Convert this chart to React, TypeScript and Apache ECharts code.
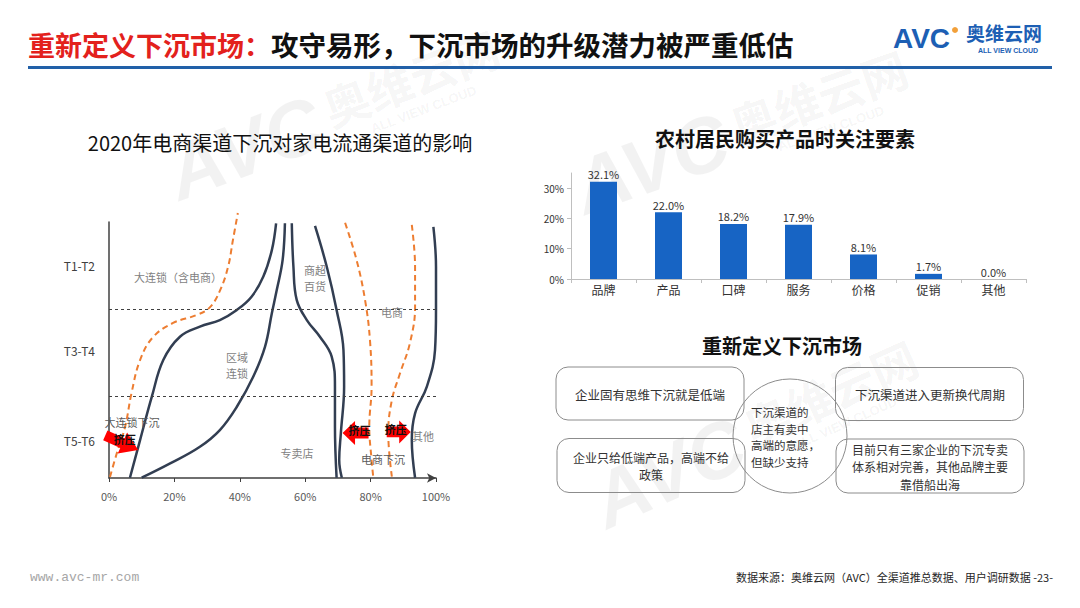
import React, { useEffect, useRef } from 'react';
import * as echarts from 'echarts';

const FONT = "'Noto Sans CJK SC', 'Noto Sans', sans-serif";

// ---------- left chart: channel boundary curves ([share %, tier level]) ----------
const X_TICK_STEP = 20;
const TIER_LABELS = ['T1-T2', 'T3-T4', 'T5-T6'];
const TIER_LEVELS = [80, 48.3, 14.3];
const TIER_DIVIDERS = [63.7, 31.0];

const bigChainEcomDashed = [[0.3, 0.4], [2.4, 9.4], [4.9, 19.2], [6.9, 32.1], [9.5, 44.5], [13.5, 53.2], [19.6, 58.5], [26.8, 61.5], [30.9, 64.5], [34, 70.9], [36.4, 79.6], [37.9, 89.8], [39.4, 100]];
const bigChainBoundary = [[6.4, 0.1], [9.5, 14.3], [13.1, 30.7], [16.6, 44.5], [21.7, 53.3], [27.8, 57.1], [33.9, 59.6], [39.1, 63.4], [43.6, 68.4], [47.2, 76], [49.8, 86], [51.1, 96.1]];
const regionalChainBoundary = [[10, 0.1], [18.7, 5.5], [27.8, 11.8], [33.9, 18.1], [39.1, 26.9], [44.1, 38.2], [47.7, 49.5], [49.8, 62.2], [51.3, 70.9], [53.1, 82.3], [53.8, 96.1]];
const specialtyBoundary = [[55.9, 96.1], [56.4, 79.7], [57.4, 67.2], [60.5, 59.6], [64.5, 53.3], [68.1, 45.8], [69.1, 34.5], [69.1, 19.4], [69.6, 0.1]];
const supermarketBoundary = [[63, 95.1], [66.6, 79.7], [69.6, 63.4], [71.7, 48.3], [71.9, 34.5], [70.9, 16.9], [70.4, 6.8], [71.2, 0.1]];
const ecomLeftDashed = [[72.2, 96.3], [75.7, 82.3], [78.3, 67.2], [79.8, 52.1], [80.3, 34.5], [79.6, 19.4], [80.3, 6.8], [80.8, 0.5]];
const ecomRightDashed = [[92.6, 95.5], [93.6, 79.7], [93.6, 64.6], [92, 50.8], [89, 39.5], [86.5, 29.4], [85.4, 16.9], [86.5, 0.5]];
const othersBoundary = [[99.2, 94.8], [100, 79.7], [100, 63.4], [99.7, 48.3], [97.2, 34.5], [93.6, 24.4], [92.6, 14.3], [93.6, 0.1]];

// squeeze arrows: [x, y, rotation deg]
const squeezeArrows = [[3.9, 13.3, -24], [75.4, 17.0, 180], [88.6, 17.4, 0]];
const squeezeLabel = '挤压';

// ---------- right top chart ----------
const factorCategories = ['品牌', '产品', '口碑', '服务', '价格', '促销', '其他'];
const factorValues = [32.1, 22.0, 18.2, 17.9, 8.1, 1.7, 0.0];
const factorTicks = [0, 10, 20, 30];

const DARK = '#323e52';
const ORANGE = '#ed7d31';
const WM = 'rgba(0,0,0,0.05)';

function txt(x: number, y: number, text: string, o: any = {}) {
  const align = o.align || 'center';
  return {
    type: 'text',
    x,
    y,
    z: o.z ?? 10,
    silent: true,
    style: {
      text,
      fill: o.fill || '#333',
      fontSize: o.fontSize || 12,
      fontWeight: o.fontWeight || 'normal',
      fontStyle: o.fontStyle || 'normal',
      fontFamily: o.fontFamily || FONT,
      lineHeight: o.lineHeight,
      align,
      textAlign: align,
      verticalAlign: 'middle',
      textVerticalAlign: 'middle',
    },
  };
}

function watermark(x: number, y: number, rot: number) {
  return {
    type: 'group',
    x,
    y,
    rotation: rot,
    z: -5,
    silent: true,
    children: [
      { type: 'text', x: 0, y: 0, z: -5, style: { text: 'AVC', fill: WM, fontSize: 78, fontWeight: 'bold', fontStyle: 'italic', fontFamily: 'Liberation Sans', align: 'left', textAlign: 'left', verticalAlign: 'middle', textVerticalAlign: 'middle' } },
      { type: 'text', x: 168, y: -8, z: -5, style: { text: '奥维云网', fill: WM, fontSize: 46, fontWeight: 'bold', fontFamily: FONT, align: 'left', textAlign: 'left', verticalAlign: 'middle', textVerticalAlign: 'middle' } },
      { type: 'text', x: 205, y: 27, z: -5, style: { text: 'ALL VIEW CLOUD', fill: WM, fontSize: 13, fontWeight: 'bold', fontFamily: 'Liberation Sans', align: 'left', textAlign: 'left', verticalAlign: 'middle', textVerticalAlign: 'middle' } },
    ],
  };
}

function box(x: number, y: number, w: number, h: number) {
  return { type: 'rect', z: 5, silent: true, shape: { x, y, width: w, height: h, r: 12 }, style: { fill: 'none', stroke: '#8c8c8c', lineWidth: 1 } };
}

function curve(data: number[][], dashed: boolean, extra: any = {}) {
  return {
    type: 'line',
    xAxisIndex: 0,
    yAxisIndex: 0,
    data,
    smooth: 0.4,
    symbol: 'none',
    clip: false,
    silent: true,
    lineStyle: dashed ? { color: ORANGE, width: 2, type: [6, 4] } : { color: DARK, width: 2.5 },
    ...extra,
  };
}

const ARROW_PATH = 'path://M0,27L52,27L52,0L100,50L52,100L52,73L0,73Z';
const arrowSizes = [[36, 23], [26, 24], [24, 23]];
const arrowLabelOffsets = [[3, -4], [4, -3], [-3, -3]];

export default function App() {
  const ref = useRef<HTMLDivElement>(null);
  useEffect(() => {
    const chart = echarts.init(ref.current!, null, { renderer: 'svg' });
    const option: any = {
      animation: false,
      backgroundColor: '#ffffff',
      textStyle: { fontFamily: FONT },
      grid: [
        { left: 109, top: 222, width: 327, height: 256 },
        { left: 571, top: 173, width: 455, height: 106 },
      ],
      xAxis: [
        {
          gridIndex: 0,
          type: 'value',
          min: 0,
          max: 100,
          interval: X_TICK_STEP,
          axisLine: { show: true, lineStyle: { color: '#404040', width: 1.5 }, symbol: ['none', 'arrow'], symbolSize: [7, 9] },
          axisTick: { show: true, length: 4, lineStyle: { color: '#404040' } },
          axisLabel: { formatter: '{value}%', color: '#595959', fontSize: 11, margin: 12, fontFamily: FONT },
          splitLine: { show: false },
        },
        {
          gridIndex: 1,
          type: 'category',
          data: factorCategories,
          axisLine: { show: true, lineStyle: { color: '#bfbfbf' } },
          axisTick: { show: true, length: 4, lineStyle: { color: '#bfbfbf' } },
          axisLabel: { color: '#333', fontSize: 12, margin: 4, fontFamily: FONT },
          splitLine: { show: false },
        },
      ],
      yAxis: [
        {
          gridIndex: 0,
          type: 'value',
          min: 0,
          max: 96.6,
          axisLine: { show: true, lineStyle: { color: '#404040', width: 1.5 } },
          axisTick: { show: false },
          axisLabel: {
            show: true,
            customValues: TIER_LEVELS,
            formatter: (v: number) => {
              const i = TIER_LEVELS.indexOf(v);
              return i >= 0 ? TIER_LABELS[i] : '';
            },
            color: '#404040',
            fontSize: 12,
            margin: 14,
            fontFamily: FONT,
          },
          splitLine: { show: false },
        },
        {
          gridIndex: 1,
          type: 'value',
          min: 0,
          max: 35,
          interval: 10,
          axisLine: { show: true, lineStyle: { color: '#bfbfbf' } },
          axisTick: { show: true, length: 4, customValues: factorTicks, lineStyle: { color: '#bfbfbf' } },
          axisLabel: {
            customValues: factorTicks,
            formatter: (v: number) => (factorTicks.indexOf(v) >= 0 ? v + '%' : ''),
            color: '#333',
            fontSize: 10,
            margin: 7,
            fontFamily: FONT,
          },
          splitLine: { show: false },
        },
      ],
      series: [
        curve(bigChainEcomDashed, true, {
          markLine: {
            silent: true,
            symbol: ['none', 'none'],
            label: { show: false },
            lineStyle: { color: '#404040', width: 1, type: [3, 3] },
            data: TIER_DIVIDERS.map((v) => ({ yAxis: v })),
          },
        }),
        curve(bigChainBoundary, false),
        curve(regionalChainBoundary, false),
        curve(specialtyBoundary, false),
        curve(supermarketBoundary, false),
        curve(ecomLeftDashed, true),
        curve(ecomRightDashed, true),
        curve(othersBoundary, false),
        {
          type: 'scatter',
          xAxisIndex: 0,
          yAxisIndex: 0,
          silent: true,
          z: 6,
          symbol: ARROW_PATH,
          itemStyle: { color: '#ff0000', opacity: 1 },
          data: squeezeArrows.map((a, i) => ({
            value: [a[0], a[1]],
            symbolRotate: a[2],
            symbolSize: arrowSizes[i],
            label: { offset: arrowLabelOffsets[i] },
          })),
          label: {
            show: true,
            position: 'inside',
            formatter: () => squeezeLabel,
            color: '#111',
            fontSize: 11,
            fontWeight: 'bold',
            fontFamily: FONT,
          },
        },
        {
          type: 'bar',
          xAxisIndex: 1,
          yAxisIndex: 1,
          data: factorValues,
          barWidth: 27,
          silent: true,
          itemStyle: { color: '#1764c4' },
          label: {
            show: true,
            position: 'top',
            distance: 2,
            formatter: (p: any) => Number(p.value).toFixed(1) + '%',
            color: '#333',
            fontSize: 11,
            fontFamily: FONT,
          },
        },
      ],
      graphic: [
        watermark(170, 176, 0.36),
        watermark(576, 190, 0.34),
        watermark(596, 505, 0.42),
        // header
        txt(28, 44, '重新定义下沉市场：', { align: 'left', fill: '#e3211c', fontSize: 27, fontWeight: 'bold' }),
        txt(271, 44, '攻守易形，下沉市场的升级潜力被严重低估', { align: 'left', fill: '#111', fontSize: 27.5, fontWeight: 'bold' }),
        { type: 'line', silent: true, shape: { x1: 28, y1: 67.5, x2: 1052, y2: 67.5 }, style: { stroke: '#2160a8', lineWidth: 3 } },
        // logo
        txt(893, 38, 'AVC', { align: 'left', fill: '#1d5fb4', fontSize: 28, fontWeight: 'bold', fontFamily: 'Liberation Sans' }),
        { type: 'circle', silent: true, shape: { cx: 955, cy: 30, r: 3 }, style: { fill: '#f2a03a' } },
        txt(966, 32, '奥维云网', { align: 'left', fill: '#1d5fb4', fontSize: 19, fontWeight: 'bold' }),
        txt(1008, 50.5, 'ALL VIEW CLOUD', { fill: '#1d5fb4', fontSize: 7, fontWeight: 'bold', fontFamily: 'Liberation Sans' }),
        // left chart title + labels
        txt(280, 142, '2020年电商渠道下沉对家电流通渠道的影响', { fill: '#111', fontSize: 20 }),
        txt(178, 277, '大连锁（含电商）', { fill: '#7f7f7f', fontSize: 11 }),
        txt(315, 278, '商超\n百货', { fill: '#7f7f7f', fontSize: 11, lineHeight: 16 }),
        txt(392, 312, '电商', { fill: '#7f7f7f', fontSize: 11 }),
        txt(237, 365, '区域\n连锁', { fill: '#7f7f7f', fontSize: 11, lineHeight: 16 }),
        txt(132, 422, '大连锁下沉', { fill: '#595959', fontSize: 11 }),
        txt(297, 453, '专卖店', { fill: '#7f7f7f', fontSize: 11 }),
        txt(383, 459, '电商下沉', { fill: '#595959', fontSize: 11 }),
        txt(423, 436, '其他', { fill: '#7f7f7f', fontSize: 11 }),
        // right top title
        txt(785, 138, '农村居民购买产品时关注要素', { fill: '#111', fontSize: 20, fontWeight: 'bold' }),
        // right bottom diagram
        txt(782, 345, '重新定义下沉市场', { fill: '#111', fontSize: 20, fontWeight: 'bold' }),
        box(556, 367, 188, 53),
        box(557, 438.5, 188, 54),
        box(835.5, 367.5, 188, 53),
        box(836, 439, 188, 54),
        { type: 'circle', z: 5, silent: true, shape: { cx: 790, cy: 436, r: 57 }, style: { fill: 'none', stroke: '#8c8c8c', lineWidth: 1 } },
        txt(650, 394, '企业固有思维下沉就是低端', { fontSize: 12.5 }),
        txt(651, 466, '企业只给低端产品，高端不给\n政策', { fontSize: 12, lineHeight: 17.5 }),
        txt(930, 394, '下沉渠道进入更新换代周期', { fontSize: 12.5 }),
        txt(930, 466.5, '目前只有三家企业的下沉专卖\n体系相对完善，其他品牌主要\n靠借船出海', { fontSize: 12, lineHeight: 17.5 }),
        txt(751, 437, '下沉渠道的\n店主有卖中\n高端的意愿，\n但缺少支持', { align: 'left', fontSize: 11.5, lineHeight: 16.8 }),
        // footer
        txt(30, 577, 'www.avc-mr.com', { align: 'left', fill: '#a6a6a6', fontSize: 13, fontFamily: "'Liberation Mono', monospace" }),
        txt(1053, 577, '数据来源：奥维云网（AVC）全渠道推总数据、用户调研数据 -23-', { align: 'right', fill: '#262626', fontSize: 11 }),
      ],
    };
    chart.setOption(option);
    return () => chart.dispose();
  }, []);
  return (
    <div
      ref={ref}
      style={{ position: 'absolute', left: 0, top: 0, width: 1080, height: 608, background: '#fff' }}
    />
  );
}
